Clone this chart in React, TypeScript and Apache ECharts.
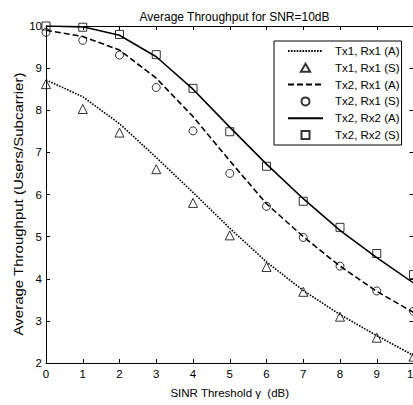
import React, { useEffect, useRef } from "react";
import * as echarts from "echarts";

const snr = [0, 1, 2, 3, 4, 5, 6, 7, 8, 9, 10];
const tx1rx1A = [8.72, 8.32, 7.68, 6.88, 6.05, 5.2, 4.4, 3.72, 3.15, 2.65, 2.18];
const tx1rx1S = [8.62, 8.03, 7.47, 6.6, 5.8, 5.03, 4.28, 3.69, 3.1, 2.6, 2.15];
const tx2rx1A = [9.9, 9.75, 9.43, 8.76, 7.85, 6.8, 5.78, 5.0, 4.3, 3.7, 3.2];
const tx2rx1S = [9.85, 9.66, 9.31, 8.54, 7.51, 6.5, 5.72, 4.98, 4.3, 3.71, 3.23];
const tx2rx2A = [10.0, 9.98, 9.78, 9.27, 8.5, 7.6, 6.72, 5.9, 5.15, 4.5, 3.9];
const tx2rx2S = [10.0, 9.97, 9.8, 9.32, 8.52, 7.49, 6.67, 5.84, 5.22, 4.6, 4.1];

const seriesNames = [
  "Tx1, Rx1 (A)",
  "Tx1, Rx1 (S)",
  "Tx2, Rx1 (A)",
  "Tx2, Rx1 (S)",
  "Tx2, Rx2 (A)",
  "Tx2, Rx2 (S)",
];

const titleText = "Average Throughput for SNR=10dB";
const xName = "SINR Threshold γ  (dB)";
const yName = "Average Throughput (Users/Subcarrier)";

const FONT = "Liberation Sans, Arial, sans-serif";

const TRI = "path://M5,0L10,8.66L0,8.66Z";
const CIRC = "path://M0,5A5,5,0,1,1,10,5A5,5,0,1,1,0,5Z";
const SQR = "path://M0,0L10,0L10,10L0,10Z";

const pairs = (ys: number[]) => snr.map((x, i) => [x, ys[i]]);

export default function App() {
  const ref = useRef<HTMLDivElement>(null);
  useEffect(() => {
    if (!ref.current) return;
    const chart = echarts.init(ref.current, undefined, { renderer: "svg" });
    const clear = "rgba(0,0,0,0)";
    const lineS = (name: string, ys: number[], type: any, width: number) => ({
      name,
      type: "line",
      data: pairs(ys),
      symbol: "none",
      smooth: false,
      lineStyle: { color: "#000", width, type },
      itemStyle: { color: clear, borderColor: clear, borderWidth: 0 },
      z: 2,
    });
    const scatS = (name: string, ys: number[], symbol: string, size: number) => ({
      name,
      type: "scatter",
      data: pairs(ys),
      symbol,
      symbolSize: size,
      symbolKeepAspect: true,
      itemStyle: { color: clear, borderColor: "#000", borderWidth: 1 },
      z: 3,
    });
    const axisCommon = {
      type: "value",
      axisLine: { show: true, onZero: false, lineStyle: { color: "#000", width: 1 } },
      axisTick: { show: true, inside: true, length: 4, lineStyle: { color: "#000", width: 1 } },
      splitLine: { show: false },
    };
    chart.setOption({
      animation: false,
      backgroundColor: "#fff",
      textStyle: { fontFamily: FONT },
      title: {
        text: titleText,
        left: 229.5,
        textAlign: "center",
        top: 6,
        textStyle: { fontSize: 12, fontWeight: "normal", color: "#000", fontFamily: FONT },
      },
      grid: { left: 46, top: 26, width: 367.5, height: 337, outerBoundsMode: "none", containLabel: false },
      xAxis: [
        {
          ...axisCommon,
          position: "bottom",
          min: 0,
          max: 10,
          interval: 1,
          axisLabel: { color: "#000", fontSize: 11.5, margin: 5, fontFamily: FONT },
          name: xName,
          nameLocation: "middle",
          nameGap: 24,
          nameTextStyle: { color: "#000", fontSize: 11.5, fontFamily: FONT },
        },
        {
          ...axisCommon,
          position: "top",
          min: 0,
          max: 10,
          interval: 1,
          axisLabel: { show: false },
        },
      ],
      yAxis: [
        {
          ...axisCommon,
          position: "left",
          min: 2,
          max: 10,
          interval: 1,
          axisLabel: { color: "#000", fontSize: 11.5, margin: 4, fontFamily: FONT },
        },
        {
          ...axisCommon,
          position: "right",
          min: 2,
          max: 10,
          interval: 1,
          axisLabel: { show: false },
        },
      ],
      graphic: [
        {
          type: "text",
          x: 19.5,
          y: 204,
          rotation: Math.PI / 2,
          scaleX: 1.25,
          style: {
            text: yName,
            fontSize: 12,
            fontFamily: FONT,
            fill: "#000",
            align: "center",
            verticalAlign: "middle",
          },
        },
      ],
      legend: {
        orient: "vertical",
        left: 274,
        top: 41,
        padding: [4, 2, 4, 13],
        itemWidth: 35,
        itemHeight: 8,
        itemGap: 4.8,
        symbolKeepAspect: true,
        borderColor: "#000",
        borderWidth: 1,
        backgroundColor: "#fff",
        data: [
          { name: seriesNames[0] },
          { name: seriesNames[1], icon: TRI },
          { name: seriesNames[2] },
          { name: seriesNames[3], icon: CIRC },
          { name: seriesNames[4] },
          { name: seriesNames[5], icon: SQR },
        ],
        textStyle: {
          color: "#000",
          fontSize: 11.5,
          lineHeight: 12,
          fontFamily: FONT,
          padding: [0, 0, 0, 7],
        },
      },
      series: [
        lineS(seriesNames[0], tx1rx1A, [1.6, 1.3], 1.6),
        scatS(seriesNames[1], tx1rx1S, "triangle", 9),
        lineS(seriesNames[2], tx2rx1A, [6, 3], 1.6),
        scatS(seriesNames[3], tx2rx1S, "circle", 8),
        lineS(seriesNames[4], tx2rx2A, "solid", 1.6),
        scatS(seriesNames[5], tx2rx2S, "rect", 8),
      ],
    });
    return () => chart.dispose();
  }, []);
  return (
    <div
      ref={ref}
      style={{ position: "absolute", left: 0, top: 0, width: 413, height: 405 }}
    />
  );
}
